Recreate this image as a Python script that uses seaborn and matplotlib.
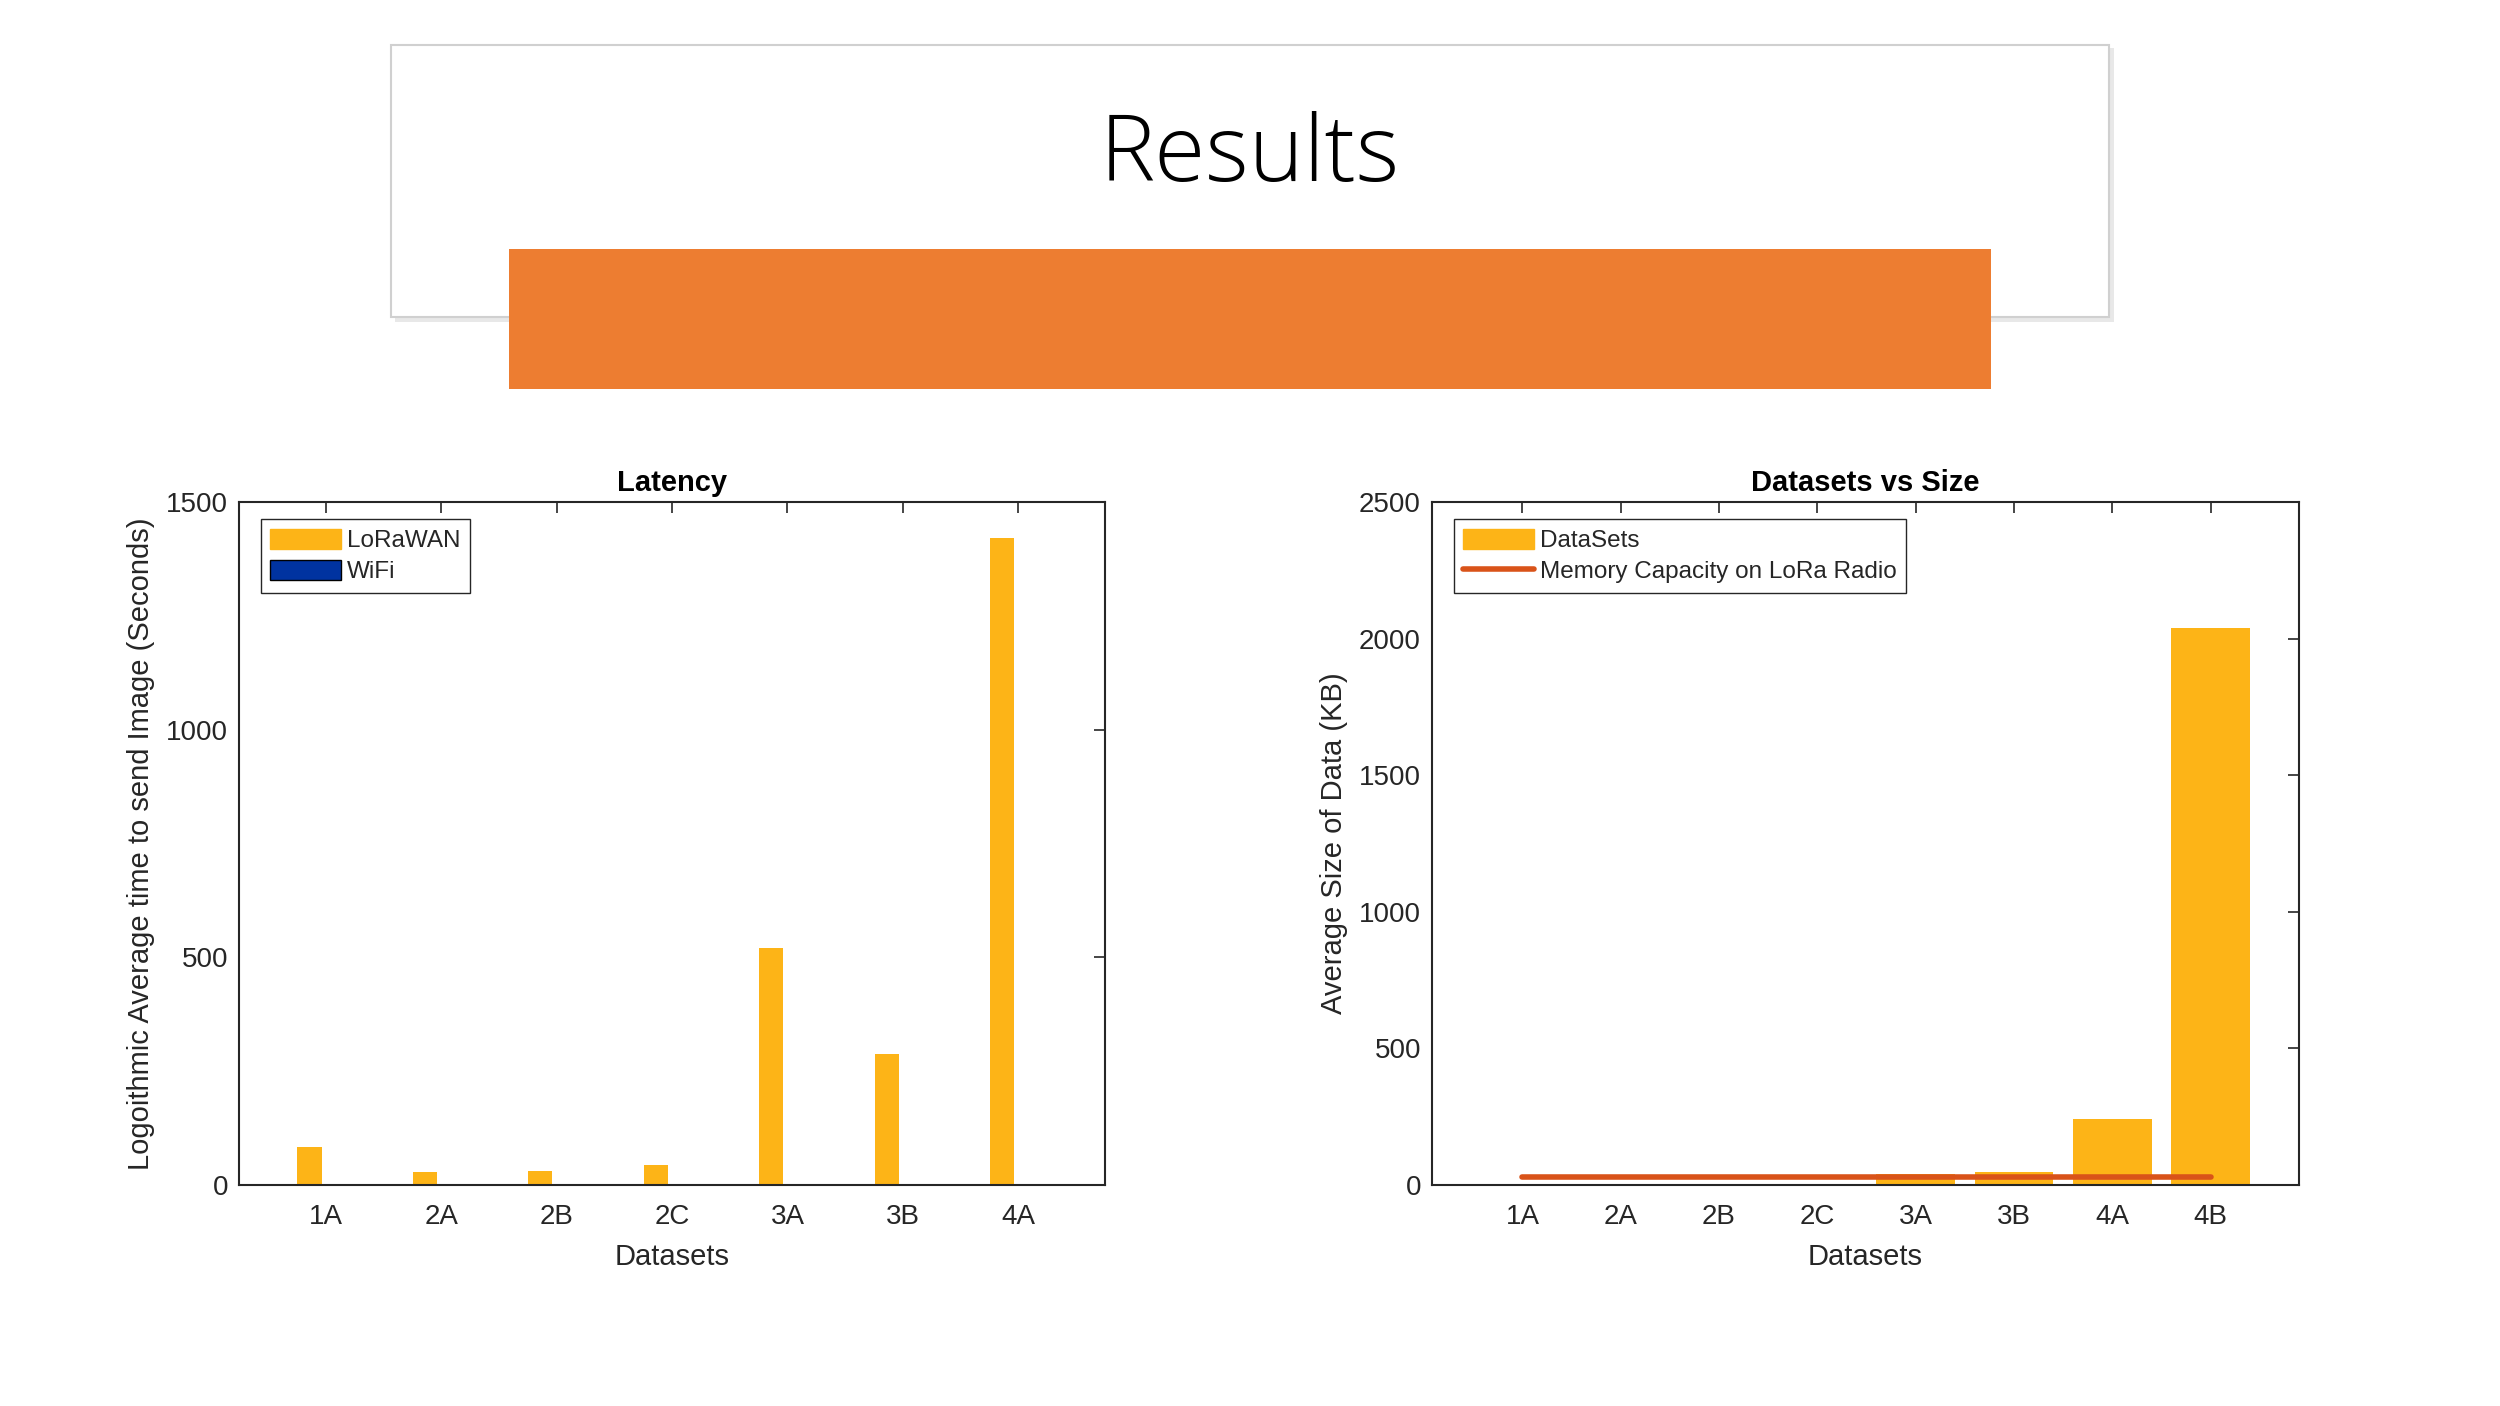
import numpy as np
import pandas as pd
import seaborn as sns
import matplotlib.pyplot as plt
from matplotlib.patches import Rectangle, Patch
from matplotlib.lines import Line2D

# Latency data (seconds) per dataset
lat_cats = ['1A', '2A', '2B', '2C', '3A', '3B', '4A']
lora_latency = [84, 28, 31, 44, 520, 287, 1420]
wifi_latency = [0, 0, 0, 0, 0, 0, 0]

# Dataset sizes (KB)
size_cats = ['1A', '2A', '2B', '2C', '3A', '3B', '4A', '4B']
dataset_size = [1, 1, 1, 1, 41, 49, 242, 2040]
lora_memory = [28, 28, 28, 28, 28, 28, 28, 28]

bar_color = '#FDB417'
wifi_color = '#0033A0'
line_color = '#D95319'
ink = '#262626'

sns.set_theme(style='white')
plt.rcParams['font.family'] = ['Liberation Sans', 'DejaVu Sans']

fig = plt.figure(figsize=(25, 14.06), dpi=100)

# slide header: title box with shadow + orange band
fig.patches.append(Rectangle((0.1580, 0.7710), 0.6876, 0.1950, transform=fig.transFigure,
                             facecolor='#d9d9d9', edgecolor='none', alpha=0.6, zorder=0))
fig.patches.append(Rectangle((0.1564, 0.7745), 0.6872, 0.1935, transform=fig.transFigure,
                             facecolor='white', edgecolor='#d0d0d0', linewidth=1.5, zorder=1))
fig.patches.append(Rectangle((0.2034, 0.7233), 0.5932, 0.0997, transform=fig.transFigure,
                             facecolor='#ED7D31', edgecolor='none', zorder=2))
fig.text(0.5, 0.888, 'Results', ha='center', va='center', fontsize=67,
         family=['Open Sans', 'DejaVu Sans'], fontweight='light', color='black', zorder=3)

legend_kw = dict(loc='upper left', bbox_to_anchor=(0.025, 0.975), fontsize=17.5,
                 frameon=True, fancybox=False, edgecolor=ink, framealpha=1,
                 handlelength=2.9, handleheight=0.9, handletextpad=0.25, borderpad=0.4,
                 labelspacing=0.3, borderaxespad=0)

# ---- Latency chart ----
ax1 = fig.add_axes([0.0956, 0.1572, 0.3464, 0.4858])
lat_df = pd.DataFrame({
    'Dataset': lat_cats * 2,
    'Latency': lora_latency + wifi_latency,
    'Network': ['LoRaWAN'] * len(lat_cats) + ['WiFi'] * len(lat_cats),
})
sns.barplot(data=lat_df, x='Dataset', y='Latency', hue='Network',
            palette={'LoRaWAN': bar_color, 'WiFi': wifi_color},
            width=0.56, gap=0.25, linewidth=0, saturation=1, ax=ax1, legend=False)
ax1.set_xlim(-0.75, len(lat_cats) - 0.25)
ax1.set_ylim(0, 1500)
ax1.set_yticks([0, 500, 1000, 1500])
ax1.set_title('Latency', fontsize=21, fontweight='bold', color='black', pad=8)
ax1.set_xlabel('Datasets', fontsize=21, color=ink, labelpad=9)
ax1.set_ylabel('Logoithmic Average time to send Image (Seconds)', fontsize=21, color=ink, labelpad=8)
handles = [Patch(facecolor=bar_color, edgecolor=bar_color, label='LoRaWAN'),
           Patch(facecolor=wifi_color, edgecolor='black', label='WiFi')]
ax1.legend(handles=handles, **legend_kw)

# ---- Datasets vs Size chart ----
ax2 = fig.add_axes([0.5728, 0.1572, 0.3468, 0.4858])
size_df = pd.DataFrame({'Dataset': size_cats, 'Size': dataset_size,
                        'pos': np.arange(len(size_cats)), 'Memory': lora_memory})
sns.barplot(data=size_df, x='Dataset', y='Size', color=bar_color, saturation=1,
            width=0.8, linewidth=0, ax=ax2)
sns.lineplot(data=size_df, x='pos', y='Memory', color=line_color, linewidth=4,
             ax=ax2, zorder=5)
ax2.set_xticks(np.arange(len(size_cats)))
ax2.set_xticklabels(size_cats)
ax2.set_xlim(-0.92, len(size_cats) - 0.1)
ax2.set_ylim(0, 2500)
ax2.set_yticks([0, 500, 1000, 1500, 2000, 2500])
ax2.set_title('Datasets vs Size', fontsize=21, fontweight='bold', color='black', pad=8)
ax2.set_xlabel('Datasets', fontsize=21, color=ink, labelpad=9)
ax2.set_ylabel('Average Size of Data (KB)', fontsize=21, color=ink, labelpad=8)
handles2 = [Patch(facecolor=bar_color, edgecolor=bar_color, label='DataSets'),
            Line2D([0], [0], color=line_color, linewidth=4, label='Memory Capacity on LoRa Radio')]
ax2.legend(handles=handles2, **legend_kw)

for ax in (ax1, ax2):
    for sp in ax.spines.values():
        sp.set_visible(True)
        sp.set_color(ink)
        sp.set_linewidth(1.5)
    ax.tick_params(direction='in', top=True, right=True, length=8, width=1.2,
                   color=ink, labelcolor=ink, labelsize=20)
    ax.tick_params(axis='x', pad=14)
    ax.tick_params(axis='y', pad=8)
    ax.grid(False)

fig.savefig('out.png', dpi=100, facecolor='white')
